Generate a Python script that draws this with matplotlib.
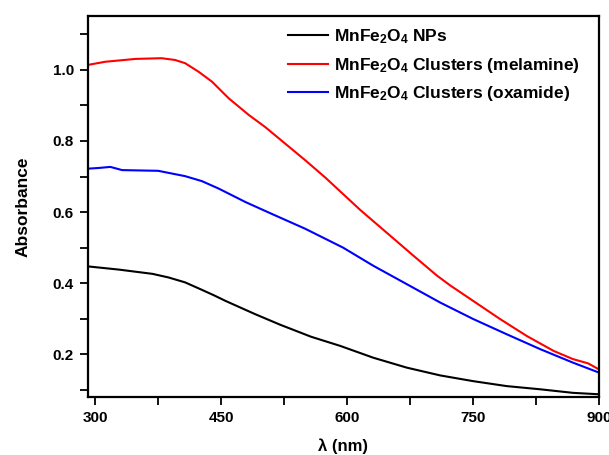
import numpy as np
import matplotlib
matplotlib.use('Agg')
import matplotlib.pyplot as plt
from matplotlib.ticker import MultipleLocator

plt.rcParams['font.family'] = ['Liberation Sans', 'DejaVu Sans']
plt.rcParams['mathtext.fontset'] = 'custom'
plt.rcParams['mathtext.rm'] = 'Liberation Sans'
plt.rcParams['mathtext.bf'] = 'Liberation Sans:bold'
plt.rcParams['mathtext.default'] = 'bf'

# wavelength (nm) and absorbance
wl_np = [291, 328, 368, 387, 407, 427, 441, 455, 472, 490, 520, 557, 592, 631,
         671, 711, 750, 790, 830, 869, 900]
abs_np = [0.447, 0.438, 0.426, 0.416, 0.402, 0.381, 0.366, 0.350, 0.332, 0.313,
          0.283, 0.249, 0.223, 0.190, 0.162, 0.140, 0.124, 0.110, 0.101, 0.091,
          0.087]

wl_mel = [291, 312, 348, 379, 395, 407, 423, 439, 459, 483, 502, 526, 550, 574,
          595, 616, 651, 679, 707, 723, 750, 782, 814, 846, 869, 887, 900]
abs_mel = [1.014, 1.023, 1.031, 1.033, 1.028, 1.019, 0.995, 0.967, 0.920, 0.873,
           0.840, 0.793, 0.746, 0.697, 0.651, 0.605, 0.534, 0.477, 0.421, 0.393,
           0.350, 0.299, 0.251, 0.209, 0.186, 0.174, 0.157]

wl_oxa = [291, 304, 318, 332, 375, 407, 427, 447, 479, 510, 550, 595, 631, 671,
          711, 750, 790, 830, 869, 900]
abs_oxa = [0.722, 0.724, 0.727, 0.718, 0.716, 0.701, 0.687, 0.666, 0.628, 0.595,
           0.553, 0.500, 0.449, 0.397, 0.345, 0.299, 0.256, 0.214, 0.176, 0.148]

labels = [r'MnFe$_2$O$_4$ NPs',
          r'MnFe$_2$O$_4$ Clusters (melamine)',
          r'MnFe$_2$O$_4$ Clusters (oxamide)']

fig = plt.figure(figsize=(6.09, 4.55), dpi=100)
ax = fig.add_axes([0.144, 0.128, 0.8396, 0.837])

ax.plot(wl_np, abs_np, color='black', lw=1.5, label=labels[0])
ax.plot(wl_mel, abs_mel, color='red', lw=1.5, label=labels[1])
ax.plot(wl_oxa, abs_oxa, color='blue', lw=1.5, label=labels[2])

ax.set_xlim(291, 900)
ax.set_ylim(0.08, 1.152)
ax.xaxis.set_major_locator(MultipleLocator(150))
ax.xaxis.set_minor_locator(MultipleLocator(75))
ax.yaxis.set_major_locator(MultipleLocator(0.2))
ax.yaxis.set_minor_locator(MultipleLocator(0.1))
ax.yaxis.set_major_formatter(plt.FormatStrFormatter('%.1f'))

ax.tick_params(which='both', direction='out', length=6, width=1.3,
               top=False, right=False, labelsize=11, pad=4)
for lab in ax.get_xticklabels() + ax.get_yticklabels():
    lab.set_fontweight('bold')
for s in ax.spines.values():
    s.set_linewidth(1.6)

ax.set_xlabel('λ (nm)', fontsize=12, fontweight='bold', labelpad=10)
ax.set_ylabel('Absorbance', fontsize=12.5, fontweight='bold', labelpad=16)

leg = ax.legend(loc='upper left', bbox_to_anchor=(0.392, 0.97), frameon=False,
                fontsize=12.5, handlelength=2.3, handletextpad=0.35,
                labelspacing=0.55, borderpad=0, borderaxespad=0)
for t in leg.get_texts():
    t.set_fontweight('bold')

fig.savefig('out.png', dpi=100)
